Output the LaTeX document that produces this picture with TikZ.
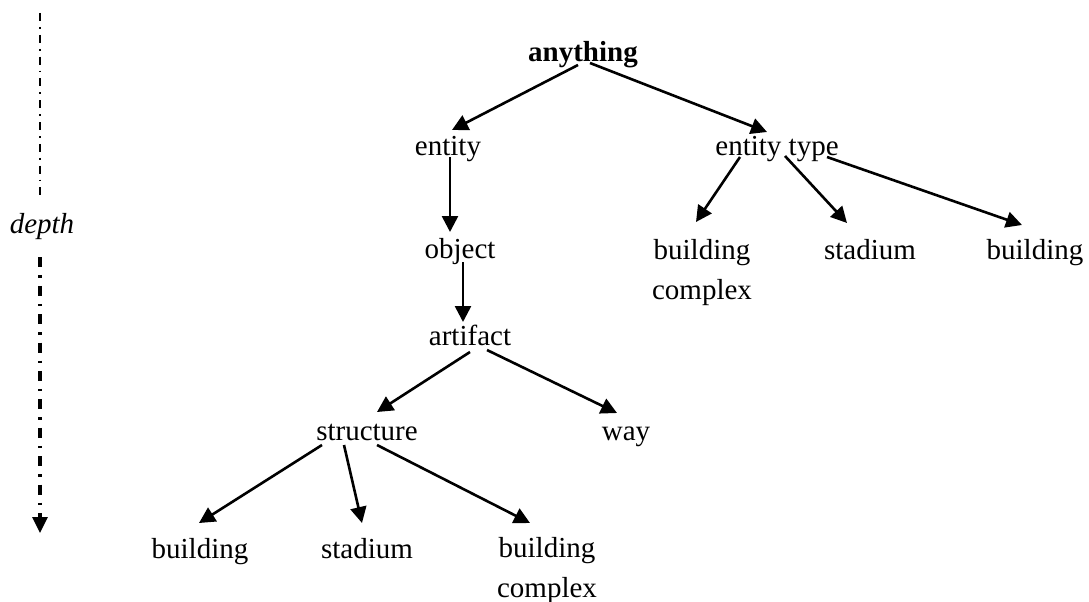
\documentclass[tikz,border=0pt]{standalone}
\usepackage{fontspec}
\setmainfont{Liberation Serif}
\usetikzlibrary{arrows.meta}
\begin{document}
\begin{tikzpicture}[x=1pt,y=-1pt,
  term/.style={inner sep=0pt,anchor=base,font=\fontsize{29}{40}\selectfont,align=center},
  isa/.style={line width=2.6pt,-{Triangle[length=16pt,width=16pt]}},
  depthtop/.style={line width=2.2pt,dash pattern=on 8pt off 6pt on 1.8pt off 6pt},
  depthbottom/.style={line width=3.2pt,dash pattern=on 10pt off 8pt on 2.4pt off 8pt,
    -{Triangle[length=16pt,width=15pt]}}]
  \fill[white] (0,0) rectangle (1089,602);
  \useasboundingbox (0,0) rectangle (1089,602);

  % concept hierarchy (nodes placed by the baseline of their last line)
  \node[term,font=\fontsize{29}{40}\selectfont\bfseries] (anything) at (583,62) {anything};
  \node[term] (entity) at (448,155) {entity};
  \node[term] (etype) at (777,155) {entity type};
  \node[term] (object) at (460,258) {object};
  \node[term] (artifact) at (470,345) {artifact};
  \node[term] (structure) at (367,440) {structure};
  \node[term] (way) at (626,440) {way};
  \node[term] (buildingL) at (200,558) {building};
  \node[term] (stadiumL) at (367,558) {stadium};
  \node[term] (complexL) at (547,597) {building\\complex};
  \node[term] (complexR) at (702,299) {building\\complex};
  \node[term] (stadiumR) at (870,259) {stadium};
  \node[term] (buildingR) at (1035,259) {building};

  % depth axis
  \node[term,font=\fontsize{29}{40}\selectfont\itshape] (depth) at (42,233) {depth};
  \coordinate (dtop) at (40,13);
  \coordinate (dbot) at (40,533);
  \draw[depthtop] (dtop) -- ([yshift=16pt]dtop |- depth.north);
  \draw[depthbottom] ([yshift=-18pt]dbot |- depth.south) -- (dbot);

  % is-a links
  \draw[isa] ([shift={(-5,3)}]anything.base) -- ([shift={(4,-25)}]entity.base);
  \draw[isa] ([shift={(7,1)}]anything.base) -- ([shift={(-10,-23)}]etype.base);
  \draw[isa] ([shift={(2,2)}]entity.base) -- ([shift={(-10,-26)}]object.base);
  \draw[isa] ([shift={(3,4)}]object.base) -- ([shift={(-7,-23)}]artifact.base);
  \draw[isa] ([shift={(0,7)}]artifact.base) -- ([shift={(10,-28)}]structure.base);
  \draw[isa] ([shift={(17,5)}]artifact.base) -- ([shift={(-9,-27)}]way.base);
  \draw[isa] ([shift={(-45,5)}]structure.base) -- ([shift={(-1,-35)}]buildingL.base);
  \draw[isa] ([shift={(-23,5)}]structure.base) -- ([shift={(-5,-35)}]stadiumL.base);
  \draw[isa] ([shift={(10,5)}]structure.base) -- ([shift={(-17,-74)}]complexL.base);
  \draw[isa] ([shift={(-37,2)}]etype.base) -- ([shift={(-6,-77)}]complexR.base);
  \draw[isa] ([shift={(8,1)}]etype.base) -- ([shift={(-23,-36)}]stadiumR.base);
  \draw[isa] ([shift={(50,2)}]etype.base) -- ([shift={(-13,-34)}]buildingR.base);
\end{tikzpicture}
\end{document}
